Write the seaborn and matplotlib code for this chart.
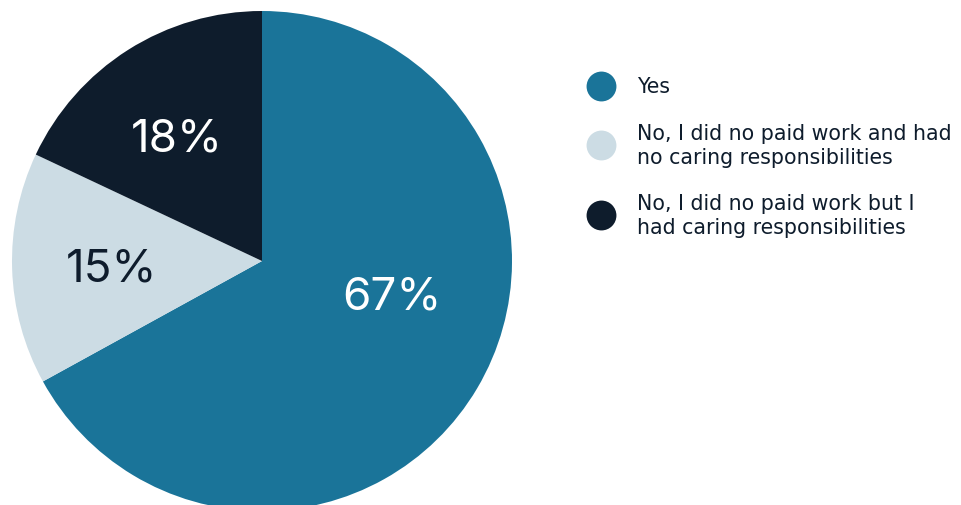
import matplotlib
matplotlib.use("Agg")
import matplotlib.pyplot as plt
from matplotlib.lines import Line2D
import seaborn as sns

sns.set_theme(style="white")
plt.rcParams["font.family"] = ["DejaVu Sans"]

categories = [
    "Yes",
    "No, I did no paid work and had\nno caring responsibilities",
    "No, I did no paid work but I\nhad caring responsibilities",
]
shares = [67, 15, 18]
colors = ["#1a7499", "#ccdce4", "#0e1c2c"]
label_colors = ["white", "#0e1c2c", "white"]
text_color = "#0e1c2c"

W, H = 961, 506
fig = plt.figure(figsize=(W / 100, H / 100), dpi=100)
# pie occupies a 500 px square whose top-left corner sits at (12, 12)
ax = fig.add_axes([12 / W, (H - 512) / H, 500 / W, 500 / H])

wedges, texts, autotexts = ax.pie(
    shares,
    colors=colors,
    startangle=90,
    counterclock=False,
    autopct="%d%%",
    pctdistance=0.6,
    wedgeprops=dict(linewidth=0),
    textprops=dict(fontsize=33, fontfamily=["Inter", "DejaVu Sans"]),
)
ax.set_xlim(-1, 1)
ax.set_ylim(-1, 1)
ax.set_aspect("equal")
for t, c in zip(autotexts, label_colors):
    t.set_color(c)
autotexts[0].set_position((0.52, -0.14))
autotexts[1].set_position((-0.6, -0.03))
autotexts[2].set_position((-0.34, 0.49))


def fx(px):
    return px / W


def fy(py):
    return 1 - py / H


# legend: one filled dot per category, label to its right
dot_x, text_x = 601, 637
row_y = [87, 146, 216]
for cat, col, y in zip(categories, colors, row_y):
    fig.add_artist(Line2D([fx(dot_x)], [fy(y)], marker="o", markersize=21.5,
                          markerfacecolor=col, markeredgewidth=0,
                          linestyle="", transform=fig.transFigure))
    fig.text(fx(text_x), fy(y), cat, fontsize=14.8, color=text_color,
             va="center", ha="left", linespacing=1.2)

fig.savefig("out.png", dpi=100)
